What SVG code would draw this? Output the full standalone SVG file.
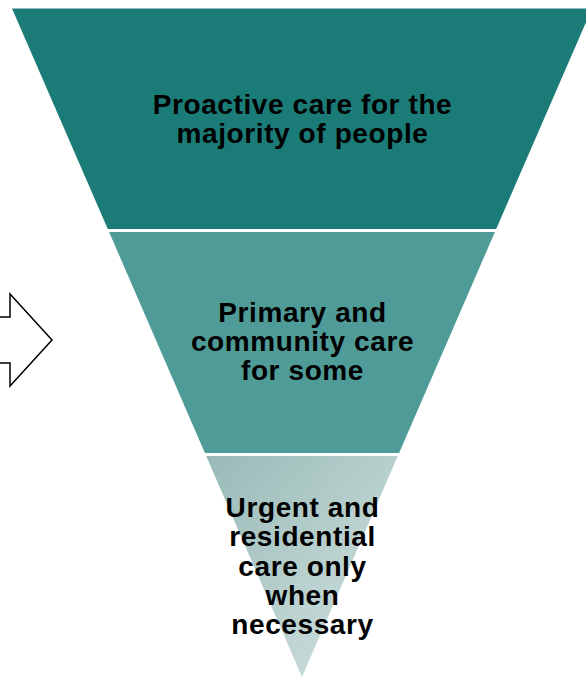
<svg xmlns="http://www.w3.org/2000/svg" width="586" height="677" viewBox="0 0 586 677">
<style>
.lbl{font-family:"Liberation Sans",Arial,sans-serif;font-weight:bold;font-size:28px;letter-spacing:0.6px;fill:#000;text-anchor:middle}
.band{stroke:none}
</style>
<defs>
<linearGradient id="g3" x1="0" y1="0" x2="1" y2="1">
<stop offset="0" stop-color="#98bab7"/>
<stop offset="1" stop-color="#d4e3e2"/>
</linearGradient>
</defs>
<rect x="0" y="0" width="586" height="677" fill="#ffffff"/>
<g id="connectors">
<polygon points="-20,317 10,317 10,294 52,340 10,386 10,363 -20,363" fill="#ffffff" stroke="#000000" stroke-width="1.5" stroke-linejoin="miter"/>
</g>
<g id="top">
<polygon class="band" points="12,8.5 592,8.5 496.2,229 107.8,229" fill="#1b7c77"/>
<text class="lbl" x="302.5" y="114">Proactive care for the</text>
<text class="lbl" x="302.5" y="143">majority of people</text>
</g>
<g id="middle">
<polygon class="band" points="109.1,232 494.9,232 399.1,453 204.9,453" fill="#4f9b97"/>
<text class="lbl" x="302.5" y="322">Primary and</text>
<text class="lbl" x="302.5" y="351">community care</text>
<text class="lbl" x="302.5" y="380">for some</text>
</g>
<g id="bottom">
<polygon class="band" points="206.2,456 397.8,456 302,677" fill="url(#g3)"/>
<text class="lbl" x="302.5" y="517">Urgent and</text>
<text class="lbl" x="302.5" y="546">residential</text>
<text class="lbl" x="302.5" y="575.5">care only</text>
<text class="lbl" x="302.5" y="605">when</text>
<text class="lbl" x="302.5" y="634">necessary</text>
</g>
</svg>
